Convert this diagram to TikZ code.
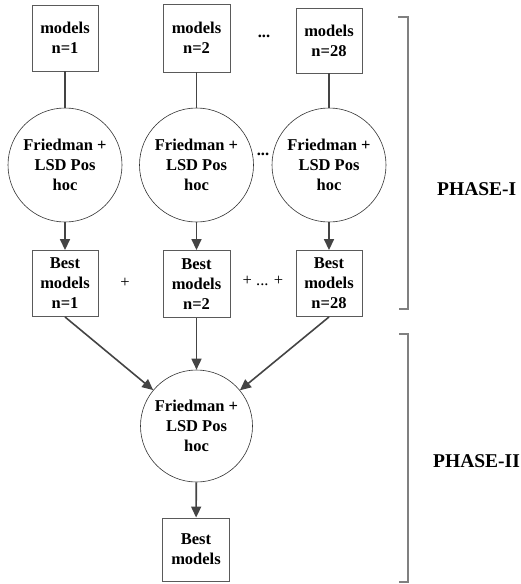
\documentclass[tikz,border=0pt]{standalone}
\usepackage{fontspec}
\setmainfont{Liberation Serif}
\usetikzlibrary{arrows.meta}
\definecolor{linegray}{HTML}{444444}
\definecolor{boxgray}{HTML}{5A5A5A}
\begin{document}
\begin{tikzpicture}[x=1pt,y=1pt,
  txt/.style={font=\fontsize{16.5}{20}\selectfont\bfseries, align=center, inner sep=0pt},
  modelbox/.style={txt, draw=boxgray, line width=0.9pt, minimum width=66pt, minimum height=66pt},
  testcircle/.style={txt, draw=black!80, line width=0.6pt, circle, minimum size=114pt},
  link/.style={draw=linegray, line width=1.6pt},
  flow/.style={link, -{Triangle[length=11pt,width=10pt]}},
  bracket/.style={draw=gray, line width=1.2pt},
  phase/.style={font=\fontsize{19.5}{22}\selectfont\bfseries, inner sep=0pt}
]
\useasboundingbox (0,0) rectangle (521,-584);

% input model sets
\node[modelbox] (m1) at (65,-38) {models\\n=1};
\node[modelbox, minimum width=67pt, minimum height=68pt] (m2) at (196.5,-38) {models\\n=2};
\node[modelbox, minimum height=65pt] (m3) at (329,-40.5) {models\\n=28};
\node[txt] (d1) at (264,-36) {...};

% per-set statistical tests
\node[testcircle] (c1) at (65,-165) {Friedman +\\LSD Pos\\hoc};
\node[testcircle] (c2) at (196.5,-165) {Friedman +\\LSD Pos\\hoc};
\node[testcircle] (c3) at (329,-165) {Friedman +\\LSD Pos\\hoc};
\node[txt] (d2) at (263,-154) {...};

% best models per set
\node[modelbox] (b1) at (65,-283.5) {Best\\models\\n=1};
\node[modelbox, minimum width=67pt, minimum height=67pt] (b2) at (196.5,-284) {Best\\models\\n=2};
\node[modelbox] (b3) at (329,-283.5) {Best\\models\\n=28};
\node[txt, font=\fontsize{16.5}{20}\selectfont] (p1) at (125,-283) {+};
\node[txt, font=\fontsize{16.5}{20}\selectfont] (p2) at (263,-281) {+ ... +};

% final test and result
\node[testcircle, minimum size=112pt] (f) at (196.5,-426) {Friedman +\\LSD Pos\\hoc};
\node[modelbox, minimum width=67pt, minimum height=63pt, text depth=-6pt] (fb) at (196,-549.5) {Best\\models};

% connectors
\draw[link] (m1) -- (c1);
\draw[link] (m2) -- (c2);
\draw[link] (m3) -- (c3);
\draw[flow] (c1) -- (b1);
\draw[flow] (c2) -- (b2);
\draw[flow] (c3) -- (b3);
\draw[flow] (b1.south) -- (f);
\draw[flow] (b2) -- (f);
\draw[flow] (b3.south) -- (f);
\draw[flow] (f) -- (fb);

% phase brackets
\coordinate (i1) at (398,-17);
\coordinate (i2) at (408,-17);
\coordinate (i3) at (408,-309);
\coordinate (i4) at (399,-309);
\draw[bracket] (i1) -- (i2) -- (i3) -- (i4);
\coordinate (j1) at (399,-334);
\coordinate (j2) at (408,-334);
\coordinate (j3) at (408,-582);
\coordinate (j4) at (399,-582);
\draw[bracket] (j1) -- (j2) -- (j3) -- (j4);
\node[phase, anchor=west] (ph1) at (437,-189) {PHASE-I};
\node[phase, anchor=west] (ph2) at (433,-461) {PHASE-II};
\end{tikzpicture}
\end{document}
